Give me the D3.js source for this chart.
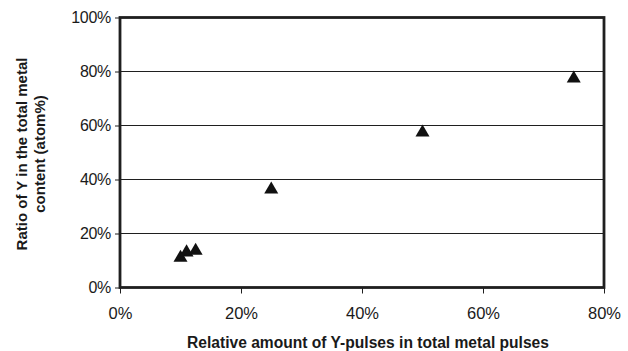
<!DOCTYPE html>
<html>
<head>
<meta charset="utf-8">
<script src="https://cdn.jsdelivr.net/npm/d3@7"></script>
<style>
  html, body { margin: 0; padding: 0; background: #fff; }
  svg { display: block; }
  text { font-family: "Liberation Sans", Arial, sans-serif; fill: #1a1a1a; }
</style>
</head>
<body>
<svg id="chart" width="628" height="351"></svg>
<script>
// Y-pulse fraction (%) vs. Y ratio in the metal content (atom %)
const pulseShare = [10, 11, 12.5, 25, 50, 75];
const yRatio = [11, 13, 13.6, 36.3, 57.4, 77.4];
const xTicks = [0, 20, 40, 60, 80];
const yTicks = [0, 20, 40, 60, 80, 100];
const xTitle = "Relative amount of Y-pulses in total metal pulses";
const yTitleLines = ["Ratio of Y in the total metal", "content (atom%)"];

const svg = d3.select("#chart");
const plot = { left: 120, right: 604, top: 17.5, bottom: 287.5 };

const x = d3.scaleLinear().domain([0, 80]).range([plot.left, plot.right]);
const y = d3.scaleLinear().domain([0, 100]).range([plot.bottom, plot.top]);
const ink = "#1f1f1f";

// horizontal gridlines
svg.append("g")
  .selectAll("line")
  .data(yTicks.filter(t => t > 0 && t < 100))
  .join("line")
  .attr("x1", plot.left).attr("x2", plot.right)
  .attr("y1", d => y(d)).attr("y2", d => y(d))
  .attr("stroke", ink).attr("stroke-width", 1.2);

// y axis
const yAxis = svg.append("g")
  .attr("transform", `translate(${plot.left},0)`)
  .call(d3.axisLeft(y).tickValues(yTicks).tickFormat(d => d + "%").tickSize(5).tickPadding(4));
yAxis.select(".domain").remove();
yAxis.selectAll(".tick line").attr("stroke", ink).attr("stroke-width", 1);
yAxis.selectAll(".tick text")
  .attr("font-size", 16).attr("letter-spacing", "-0.3px")
  .attr("fill", ink).attr("font-family", "'Liberation Sans', Arial, sans-serif");

// x axis
const xAxis = svg.append("g")
  .attr("transform", `translate(0,${plot.bottom})`)
  .call(d3.axisBottom(x).tickValues(xTicks).tickFormat(d => d + "%").tickSize(6).tickPadding(14));
xAxis.select(".domain").remove();
xAxis.selectAll(".tick line").attr("stroke", ink).attr("stroke-width", 1);
xAxis.selectAll(".tick text")
  .attr("font-size", 16.5).attr("letter-spacing", "0px")
  .attr("fill", ink).attr("font-family", "'Liberation Sans', Arial, sans-serif");

// plot frame
svg.append("rect")
  .attr("x", plot.left).attr("y", plot.top)
  .attr("width", plot.right - plot.left).attr("height", plot.bottom - plot.top)
  .attr("fill", "none").attr("stroke", ink).attr("stroke-width", 2.8);

// triangle markers
const tri = d3.symbol().type(d3.symbolTriangle).size(85);
svg.append("g")
  .selectAll("path")
  .data(pulseShare.map((v, i) => [v, yRatio[i]]))
  .join("path")
  .attr("d", tri)
  .attr("transform", d => `translate(${x(d[0])},${y(d[1])})`)
  .attr("fill", "#111");

// axis titles
svg.append("text")
  .attr("x", 368).attr("y", 348)
  .attr("text-anchor", "middle")
  .attr("font-size", 15.6).attr("font-weight", "bold")
  .text(xTitle);

const yt = svg.append("text")
  .attr("transform", "translate(0,154) rotate(-90)")
  .attr("text-anchor", "middle")
  .attr("font-size", 15).attr("font-weight", "bold");
yt.selectAll("tspan")
  .data(yTitleLines)
  .join("tspan")
  .attr("x", 0)
  .attr("y", (d, i) => 27 + i * 17.5)
  .text(d => d);
</script>
</body>
</html>
